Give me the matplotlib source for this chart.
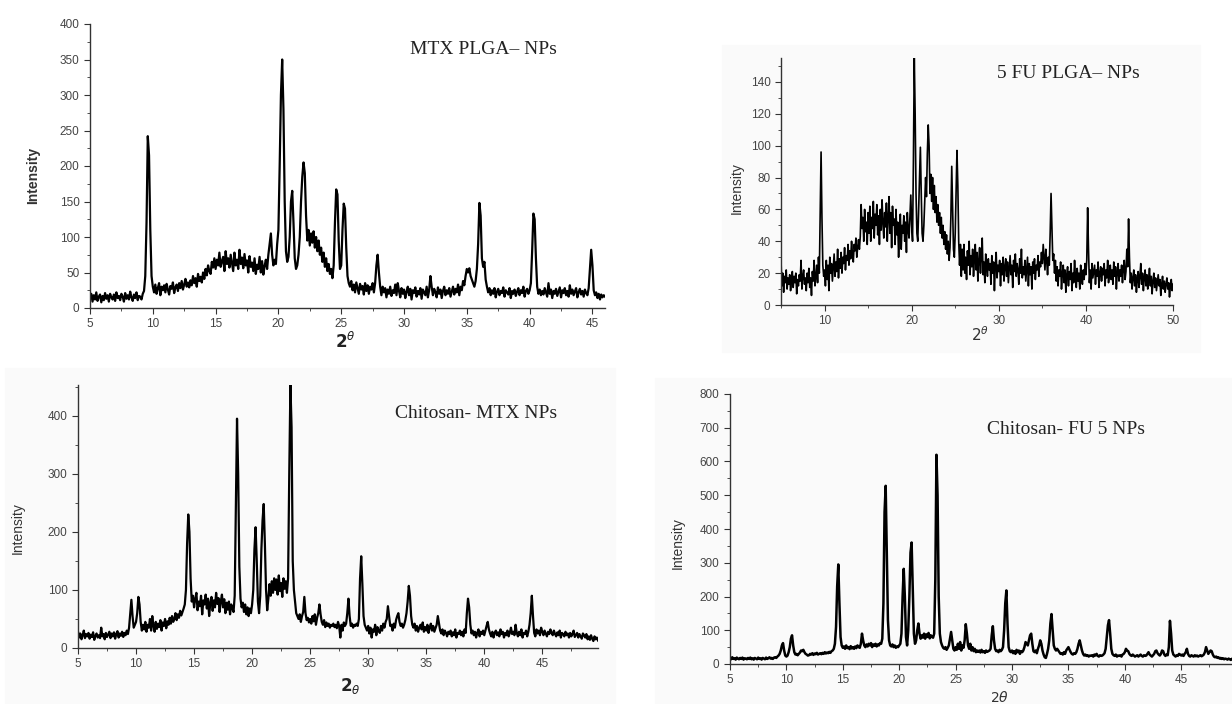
import matplotlib.pyplot as plt
from matplotlib.patches import Rectangle
from matplotlib.ticker import MultipleLocator
import numpy as np

# XRD patterns, intensity every 0.1 deg of 2-theta
step = 0.1

# MTX PLGA-NPs, 5.0 .. 46.0
mtx_plga = [
    14, 20, 9, 18, 12, 22, 10, 16, 19, 8,
    17, 11, 21, 13, 18, 9, 20, 15, 12, 19,
    10, 22, 14, 17, 11, 20, 16, 9, 21, 13,
    18, 12, 23, 15, 10, 19, 14, 22, 11, 17,
    16, 12, 20, 24, 45, 120, 242, 215, 110, 45,
    30, 22, 33, 20, 28, 35, 18, 30, 25, 32,
    22, 34, 26, 19, 31, 27, 36, 21, 29, 33,
    24, 35, 28, 38, 26, 33, 41, 30, 36, 29,
    39, 32, 45, 35, 42, 30, 48, 38, 44, 36,
    50, 41, 55, 46, 60, 52, 48, 65, 57, 70,
    55, 68, 60, 78, 58, 66, 72, 52, 80, 62,
    70, 57, 75, 63, 52, 78, 60, 68, 55, 82,
    62, 71, 56, 76, 60, 67, 50, 73, 58, 64,
    52, 70, 48, 61, 55, 72, 50, 66, 47, 59,
    68, 55, 75, 90, 105, 75, 60, 68, 62, 90,
    110, 200, 300, 350, 280, 150, 80, 65, 72, 100,
    150, 165, 120, 70, 55, 60, 75, 100, 150, 185,
    205, 190, 130, 95, 110, 88, 105, 92, 108, 85,
    100, 80, 95, 75, 85, 65, 78, 58, 70, 52,
    62, 48, 55, 42, 60, 120, 167, 160, 95, 55,
    60, 110, 147, 140, 85, 45, 35, 30, 38, 25,
    33, 22, 36, 28, 20, 34, 26, 31, 19, 35,
    24, 32, 20, 30, 26, 35, 22, 35, 60, 75,
    50, 30, 18, 30, 22, 28, 15, 26, 20, 30,
    17, 25, 21, 33, 18, 35, 24, 15, 28, 20,
    26, 14, 23, 30, 18, 27, 12, 25, 21, 29,
    16, 24, 19, 28, 13, 26, 22, 18, 30, 15,
    25, 45, 30, 18, 27, 22, 15, 29, 20, 26,
    14, 24, 30, 18, 25, 20, 28, 16, 23, 30,
    19, 27, 22, 33, 18, 30, 25, 38, 32, 45,
    55, 50, 56, 45, 40, 35, 30, 38, 55, 90,
    148, 130, 70, 58, 65, 40, 30, 22, 28, 18,
    25, 20, 28, 15, 23, 27, 18, 24, 21, 29,
    16, 25, 22, 19, 28, 14, 24, 20, 26, 17,
    23, 28, 18, 25, 21, 30, 16, 24, 27, 20,
    25, 35, 80, 133, 125, 70, 30, 20, 26, 18,
    24, 19, 28, 22, 16, 35, 20, 26, 14, 24,
    20, 27, 17, 23, 29, 15, 25, 21, 28, 18,
    24, 16, 32, 20, 26, 18, 23, 28, 15, 22,
    27, 19, 24, 16, 26, 21, 18, 28, 55, 82,
    60, 25, 18, 22, 14, 20, 12, 19, 15, 18,
    16,
]

# 5 FU PLGA-NPs, 5.0 .. 50.0
fu_plga = [
    28, 12, 20, 8, 18, 14, 22, 10, 17, 13,
    19, 9, 16, 21, 11, 18, 14, 20, 7, 16,
    12, 19, 15, 28, 10, 18, 22, 13, 17, 9,
    20, 14, 23, 11, 17, 6, 21, 15, 28, 12,
    18, 25, 14, 30, 20, 60, 96, 55, 25, 18,
    22, 12, 28, 16, 25, 9, 30, 20, 26, 15,
    24, 32, 18, 27, 21, 35, 17, 29, 23, 33,
    20, 30, 26, 36, 22, 31, 28, 38, 25, 34,
    29, 40, 32, 27, 38, 34, 42, 30, 36, 41,
    35, 43, 63, 48, 55, 40, 60, 46, 52, 38,
    58, 45, 62, 40, 55, 48, 65, 42, 57, 50,
    63, 44, 56, 38, 60, 47, 66, 52, 42, 58,
    49, 64, 40, 55, 68, 45, 58, 36, 62, 50,
    54, 38, 60, 44, 52, 30, 48, 57, 35, 50,
    45, 56, 40, 52, 33, 58, 47, 42, 55, 69,
    50, 40, 90, 156, 120, 70, 45, 40, 60, 80,
    99, 70, 45, 40, 50, 65, 80, 68, 95, 113,
    100, 70, 82, 65, 80, 60, 75, 58, 68, 52,
    63, 50, 58, 45, 55, 42, 50, 38, 46, 35,
    44, 32, 40, 28, 36, 55, 87, 60, 35, 30,
    45, 70, 97, 75, 40, 25, 38, 18, 35, 22,
    38, 20, 30, 16, 34, 25, 40, 19, 31, 24,
    35, 18, 29, 38, 22, 33, 15, 28, 36, 20,
    30, 42, 19, 27, 14, 32, 24, 18, 29, 22,
    26, 13, 31, 20, 27, 9, 24, 33, 17, 25,
    21, 28, 12, 26, 19, 30, 15, 24, 29, 18,
    27, 14, 23, 31, 19, 25, 11, 28, 21, 32,
    18, 26, 22, 13, 29, 20, 35, 17, 24, 19,
    28, 15, 23, 30, 12, 26, 19, 24, 10, 27,
    20, 29, 16, 25, 22, 31, 18, 27, 24, 33,
    26, 38, 30, 22, 35, 28, 19, 30, 25, 45,
    70, 50, 28, 32, 20, 28, 15, 24, 12, 22,
    18, 27, 10, 20, 25, 14, 22, 8, 19, 24,
    12, 21, 16, 26, 9, 20, 14, 28, 17, 11,
    23, 15, 20, 10, 25, 18, 13, 22, 16, 26,
    19, 28, 61, 35, 14, 22, 10, 26, 17, 21,
    25, 13, 22, 18, 27, 11, 20, 24, 15, 23,
    19, 26, 12, 22, 17, 28, 14, 20, 25, 16,
    22, 13, 27, 18, 24, 10, 21, 26, 15, 22,
    18, 25, 14, 23, 28, 16, 21, 35, 24, 54,
    30, 14, 20, 10, 17, 22, 12, 19, 8, 16,
    21, 11, 18, 26, 13, 20, 9, 17, 22, 12,
    19, 10, 16, 23, 12, 18, 7, 15, 20, 11,
    17, 9, 14, 19, 12, 16, 6, 13, 18, 10,
    15, 8, 13, 17, 10, 14, 5, 12, 16, 9,
    13,
]

# Chitosan-MTX NPs, 5.0 .. 49.8
chi_mtx = [
    28, 18, 25, 15, 22, 30, 17, 24, 20, 26,
    16, 23, 19, 27, 14, 21, 25, 18, 22, 17,
    35, 20, 24, 15, 26, 19, 23, 28, 17, 25,
    20, 27, 16, 24, 29, 18, 25, 21, 28, 19,
    26, 22, 30, 24, 35, 60, 83, 55, 35, 40,
    45, 60, 88, 75, 45, 30, 40, 32, 45, 28,
    40, 35, 50, 30, 55, 38, 28, 45, 33, 42,
    36, 48, 30, 44, 38, 50, 34, 46, 40, 52,
    42, 55, 45, 50, 60, 48, 58, 52, 64, 56,
    62, 68, 75, 100, 180, 230, 200, 120, 80, 90,
    70, 85, 95, 65, 80, 72, 90, 58, 82, 75,
    92, 68, 85, 55, 78, 88, 64, 82, 70, 95,
    76, 86, 62, 80, 92, 70, 84, 60, 78, 66,
    80, 58, 75, 68, 62, 90, 250, 395, 300, 140,
    85, 70, 78, 62, 75, 58, 70, 55, 68, 60,
    75, 100, 170, 208, 150, 80, 60, 90, 170, 220,
    248, 180, 100, 65, 85, 110, 90, 115, 95, 120,
    100, 118, 92, 125, 98, 112, 88, 120, 102, 115,
    95, 120, 300, 453, 380, 150, 100, 80, 60, 55,
    50, 58, 45, 55, 62, 88, 60, 48, 52, 44,
    50, 42, 55, 46, 58, 40, 52, 60, 75, 58,
    45, 40, 48, 36, 44, 38, 42, 35, 40, 38,
    42, 36, 40, 34, 45, 38, 18, 40, 30, 44,
    38, 42, 60, 85, 55, 38, 42, 35, 40, 38,
    42, 38, 50, 120, 158, 110, 55, 40, 35, 30,
    38, 25, 35, 18, 32, 28, 40, 22, 36, 30,
    26, 38, 30, 42, 35, 45, 50, 72, 55, 38,
    40, 30, 42, 35, 48, 55, 60, 45, 38, 42,
    35, 40, 48, 60, 80, 107, 90, 55, 40, 35,
    42, 30, 38, 28, 35, 40, 32, 44, 28, 36,
    30, 40, 26, 35, 42, 30, 38, 28, 34, 40,
    55, 42, 30, 25, 32, 22, 30, 26, 20, 28,
    24, 30, 20, 27, 22, 32, 18, 26, 24, 30,
    22, 28, 20, 32, 26, 60, 85, 70, 40, 25,
    30, 22, 28, 18, 26, 32, 20, 28, 24, 30,
    22, 30, 38, 45, 32, 25, 20, 28, 18, 26,
    30, 22, 27, 20, 32, 24, 28, 18, 26, 22,
    30, 20, 26, 35, 24, 28, 22, 40, 26, 20,
    28, 22, 32, 18, 26, 24, 30, 20, 28, 40,
    60, 90, 55, 26, 20, 32, 25, 30, 22, 35,
    28, 22, 30, 25, 20, 28, 24, 32, 26, 22,
    30, 24, 20, 27, 22, 30, 18, 26, 24, 20,
    28, 22, 25, 18, 26, 20, 24, 30, 19, 22,
    26, 18, 24, 20, 16, 25, 22, 18, 24, 15,
    20, 14, 22, 16, 12, 20, 15, 18, 13,
]

# Chitosan-FU 5 NPs, 5.0 .. 49.5
chi_fu = [
    18, 14, 20, 15, 17, 13, 19, 16, 14, 18,
    15, 19, 13, 17, 16, 14, 18, 15, 19, 14,
    17, 13, 18, 16, 14, 19, 15, 17, 13, 18,
    16, 14, 19, 15, 17, 20, 16, 18, 15, 19,
    20, 18, 22, 25, 30, 40, 55, 62, 40, 25,
    22, 25, 35, 50, 75, 85, 55, 35, 28, 30,
    26, 30, 34, 40, 38, 42, 35, 30, 28, 25,
    26, 30, 28, 32, 27, 31, 29, 33, 28, 30,
    32, 29, 33, 30, 35, 31, 34, 32, 36, 33,
    38, 40, 45, 60, 110, 230, 295, 180, 80, 55,
    48, 52, 45, 55, 47, 50, 44, 53, 46, 50,
    45, 52, 47, 55, 50, 48, 60, 90, 70, 55,
    50, 58, 52, 60, 55, 62, 50, 58, 54, 60,
    52, 58, 55, 62, 60, 75, 180, 450, 528, 320,
    130, 70, 55, 52, 58, 50, 55, 48, 52, 50,
    55, 60, 90, 200, 282, 200, 80, 55, 100, 200,
    330, 360, 220, 90, 60, 70, 100, 120, 90, 75,
    85, 78, 90, 75, 88, 80, 92, 76, 85, 80,
    78, 90, 250, 620, 500, 200, 90, 65, 55, 48,
    45, 50, 42, 48, 55, 75, 95, 70, 45, 40,
    50, 42, 60, 45, 65, 40, 55, 48, 70, 118,
    90, 55, 45, 60, 40, 50, 38, 45, 35, 40,
    36, 40, 34, 42, 35, 38, 33, 40, 36, 38,
    40, 45, 85, 112, 70, 45, 38, 40, 35, 42,
    38, 42, 50, 100, 180, 218, 120, 50, 38, 35,
    40, 32, 38, 30, 42, 35, 40, 30, 38, 35,
    40, 50, 65, 60, 55, 70, 85, 90, 60, 38,
    35, 40, 32, 45, 55, 70, 60, 40, 28, 20,
    18, 30, 45, 70, 120, 148, 100, 55, 45, 40,
    45, 40, 35, 30, 32, 28, 35, 30, 40, 45,
    50, 42, 35, 30, 28, 32, 30, 35, 45, 60,
    70, 55, 40, 30, 25, 28, 24, 26, 22, 25,
    24, 26, 22, 28, 25, 30, 24, 22, 26, 24,
    25, 28, 32, 45, 80, 115, 130, 90, 45, 30,
    26, 24, 28, 22, 25, 24, 26, 22, 28, 30,
    35, 45, 40, 38, 30, 26, 24, 28, 25, 22,
    24, 26, 22, 25, 28, 24, 22, 26, 24, 25,
    30, 35, 28, 25, 22, 26, 30, 38, 40, 32,
    28, 25, 30, 40, 38, 28, 24, 28, 26, 50,
    128, 90, 40, 28, 25, 22, 26, 24, 30, 28,
    25, 28, 24, 30, 35, 45, 30, 24, 22, 26,
    24, 22, 26, 23, 25, 22, 24, 26, 23, 25,
    28, 35, 50, 40, 30, 35, 40, 38, 28, 22,
    20, 22, 18, 20, 16, 18, 15, 17, 14, 16,
    15, 13, 16, 14, 12, 15,
]

titles = ['MTX PLGA\u2013 NPs', '5 FU PLGA\u2013 NPs', 'Chitosan- MTX NPs', 'Chitosan- FU 5 NPs']

W, H = 1232, 704
fig = plt.figure(figsize=(W / 100, H / 100), dpi=100)

def px(left, top, right, bottom):
    # pixel box of the reference -> figure fraction
    return [left / W, 1 - bottom / H, (right - left) / W, (bottom - top) / H]

# faint grey scan backgrounds
for l, t, r, b in [(722, 45, 1200, 352), (5, 368, 615, 704), (655, 378, 1232, 704)]:
    fig.add_artist(Rectangle((l / W, 1 - b / H), (r - l) / W, (b - t) / H,
                             transform=fig.transFigure, color='#fafafa', zorder=-5))

panels = [
    # data, axes box, xlim, ylim, x major/minor, y major/minor, line width
    (mtx_plga, px(90, 24, 605, 308), (5, 46), (0, 400), (5, 2.5), (50, 25), 1.6),
    (fu_plga, px(781, 58, 1173, 305), (5, 50), (0, 155), (10, 5), (20, 10), 1.2),
    (chi_mtx, px(78, 385, 598, 648), (5, 49.8), (0, 453), (5, 2.5), (100, 50), 1.6),
    (chi_fu, px(730, 394, 1232, 664), (5, 49.5), (0, 800), (5, 2.5), (100, 50), 1.8),
]

axes = []
for y, box, xl, yl, xt, yt, lw in panels:
    ax = fig.add_axes(box)
    x = 5 + step * np.arange(len(y))
    ax.plot(x, y, color='black', lw=lw)
    ax.set_xlim(*xl)
    ax.set_ylim(*yl)
    ax.xaxis.set_major_locator(MultipleLocator(xt[0]))
    ax.xaxis.set_minor_locator(MultipleLocator(xt[1]))
    ax.yaxis.set_major_locator(MultipleLocator(yt[0]))
    ax.yaxis.set_minor_locator(MultipleLocator(yt[1]))
    ax.patch.set_alpha(0)
    for s in ['top', 'right']:
        ax.spines[s].set_visible(False)
    for s in ['left', 'bottom']:
        ax.spines[s].set_color('#333333')
        ax.spines[s].set_linewidth(1.0)
    ax.tick_params(which='both', direction='out', color='#333333', labelcolor='#444444',
                   labelsize=8.5)
    ax.tick_params(which='major', length=4)
    ax.tick_params(which='minor', length=2.5)
    axes.append(ax)

# panel 2 ticks: labels only at 10..50
axes[1].set_xticks([10, 20, 30, 40, 50])
axes[1].set_yticks([0, 20, 40, 60, 80, 100, 120, 140])
# panel 3 and 4 ticks stop at 45
axes[2].set_xticks([5, 10, 15, 20, 25, 30, 35, 40, 45])
axes[3].set_xticks([5, 10, 15, 20, 25, 30, 35, 40, 45])
for ax in axes:
    for lab in ax.get_xticklabels() + ax.get_yticklabels():
        lab.set_family('Liberation Sans')

# inside titles
title_pos = [(483, 49), (1068, 73), (476, 413), (1066, 430)]
for t, (tx, ty) in zip(titles, title_pos):
    fig.text(tx / W, 1 - ty / H, t, family='Liberation Serif', fontsize=14,
             ha='center', va='center', color='#222222')

# y labels
ylab_pos = [(33, 175, 'bold'), (737, 188, 'normal'), (18, 528, 'normal'), (678, 543, 'normal')]
for lx, ly, wgt in ylab_pos:
    fig.text(lx / W, 1 - ly / H, 'Intensity', rotation=90, family='Liberation Sans',
             fontsize=10, fontweight=wgt, ha='center', va='center', color='#333333')

# x labels
fig.text(345 / W, 1 - 342 / H, r'$\mathbf{2}^{\theta}$', fontsize=12, ha='center', va='center', color='#222222')
fig.text(980 / W, 1 - 335 / H, r'$2^{\theta}$', fontsize=11, ha='center', va='center', color='#333333')
fig.text(350 / W, 1 - 686 / H, r'$\mathbf{2}_{\theta}$', fontsize=12, ha='center', va='center', color='#222222')
fig.text(1000 / W, 1 - 697 / H, r'$2\theta$', fontsize=10, ha='center', va='center', color='#333333')

fig.savefig('out.png', dpi=100, facecolor='white')
